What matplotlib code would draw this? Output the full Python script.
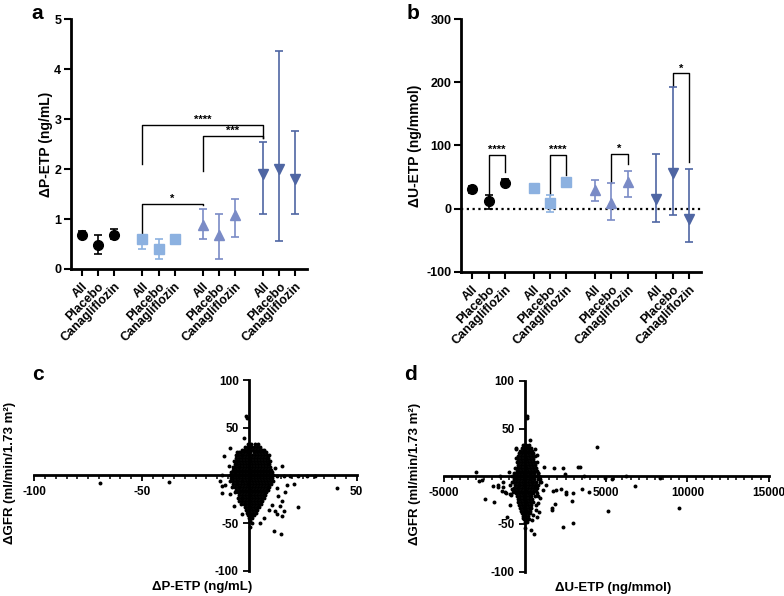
import numpy as np
import matplotlib
matplotlib.use("Agg")
import matplotlib.pyplot as plt

plt.rcParams["font.family"] = ["Liberation Sans", "DejaVu Sans"]
plt.rcParams["font.weight"] = "bold"
plt.rcParams["axes.labelweight"] = "bold"
plt.rcParams["axes.unicode_minus"] = False

# categories
arms = ["All", "Placebo", "Canagliflozin"]
tick_labels = arms * 4
positions = [0, 1, 2, 3.75, 4.75, 5.75, 7.5, 8.5, 9.5, 11.25, 12.25, 13.25]

# panel a: delta P-ETP (ng/mL), mean with interval
p_mean = [0.69, 0.49, 0.69, 0.60, 0.40, 0.60, 0.88, 0.68, 1.08, 1.90, 2.01, 1.81]
p_low = [0.62, 0.30, 0.60, 0.40, 0.20, 0.55, 0.60, 0.20, 0.65, 1.10, 0.57, 1.10]
p_high = [0.76, 0.69, 0.80, 0.66, 0.60, 0.65, 1.20, 1.10, 1.40, 2.55, 4.37, 2.77]

# panel b: delta U-ETP (ng/mmol)
u_mean = [30.4, 11.5, 40.8, 32.0, 8.4, 42.4, 30.0, 8.4, 42.4, 14.7, 56.5, -16.0]
u_low = [25, 0, 35, 29, -5, 38, 12, -18, 18, -22, -10, -53]
u_high = [36, 22, 47, 35, 21.5, 48, 46, 40, 60, 87, 193, 62]

# significance brackets: (left idx, right idx, left foot, top, right foot, label)
p_brackets = [(3, 6, 0.72, 1.31, 1.28, "*"),
              (3, 9, 2.10, 2.89, 2.62, "****"),
              (6, 9, 1.96, 2.66, 2.62, "***")]
u_brackets = [(1, 2, 22, 85, 58, "****"),
              (4, 5, 22, 85, 53, "****"),
              (7, 8, 40, 87, 70, "*"),
              (10, 11, 194, 214, 74, "*")]

# panel c: dGFR vs dP-ETP, dense core read row by row (y: x values)
c_core = {
    33: [-0.5, 1.0, 2.5, 4.0],
    30: [-2.0, -0.5, 0.8, 2.2, 3.6, 5.0],
    27: [-3.6, -2.4, -1.2, 0.2, 1.6, 3.0, 4.4, 5.8, 7.0],
    24: [-5.0, -3.8, -2.5, -1.0, 0.5, 2.0, 3.5, 5.0, 6.4, 7.6],
    21: [-6.4, -5.2, -4.0, -2.8, -1.4, 0.0, 1.4, 2.8, 4.2, 5.6, 7.0, 8.4],
    18: [-6.0, -4.8, -3.6, -2.2, -0.8, 0.6, 2.0, 3.4, 4.8, 6.2, 7.6, 8.6],
    15: [-7.0, -5.8, -4.6, -3.2, -1.8, -0.4, 1.0, 2.4, 3.8, 5.2, 6.6, 8.0, 9.2],
    12: [-6.8, -5.6, -4.4, -3.0, -1.6, -0.2, 1.2, 2.6, 4.0, 5.4, 6.8, 8.2, 9.4],
    9: [-7.6, -6.6, -5.4, -4.2, -2.8, -1.4, 0.0, 1.4, 2.8, 4.2, 5.6, 7.0, 8.4, 9.8],
    6: [-7.4, -6.2, -5.0, -3.6, -2.2, -0.8, 0.6, 2.0, 3.4, 4.8, 6.2, 7.6, 9.0, 10.2],
    3: [-8.4, -7.2, -6.0, -4.8, -3.4, -2.0, -0.6, 0.8, 2.2, 3.6, 5.0, 6.4, 7.8, 9.2, 10.6],
    0: [-9.0, -7.8, -6.6, -5.4, -4.2, -2.8, -1.4, 0.0, 1.4, 2.8, 4.2, 5.6, 7.0, 8.4, 9.8, 11.2],
    -3: [-8.6, -7.4, -6.2, -5.0, -3.6, -2.2, -0.8, 0.6, 2.0, 3.4, 4.8, 6.2, 7.6, 9.0, 10.4],
    -6: [-8.8, -7.6, -6.4, -5.2, -4.0, -3.0, -1.6, -0.2, 1.2, 2.6, 4.0, 5.4, 6.8, 8.2, 9.6, 11.0],
    -9: [-7.6, -6.4, -5.2, -3.8, -2.4, -1.0, 0.4, 1.8, 3.2, 4.6, 6.0, 7.4, 8.8, 10.0],
    -12: [-7.8, -6.6, -5.4, -4.2, -3.0, -1.6, -0.2, 1.2, 2.6, 4.0, 5.4, 6.8, 8.2, 9.4],
    -15: [-6.2, -5.0, -3.6, -2.2, -0.8, 0.6, 2.0, 3.4, 4.8, 6.2, 7.6, 8.8],
    -18: [-6.6, -5.4, -4.2, -3.0, -1.6, -0.2, 1.2, 2.6, 4.0, 5.4, 6.8, 8.0],
    -21: [-5.0, -3.6, -2.2, -0.8, 0.6, 2.0, 3.4, 4.8, 6.2, 7.4],
    -24: [-5.2, -4.0, -2.8, -1.4, 0.0, 1.4, 2.8, 4.2, 5.6, 6.8],
    -27: [-3.6, -2.2, -0.8, 0.6, 2.0, 3.4, 4.8, 6.0],
    -30: [-3.8, -2.6, -1.4, 0.0, 1.4, 2.8, 4.2, 5.4],
    -33: [-2.2, -0.8, 0.6, 2.0, 3.4, 4.6],
    -36: [-1.6, -0.2, 1.2, 2.6, 3.8],
    -39: [-1.0, 0.4, 1.8, 3.0],
    -42: [-0.6, 0.8, 2.2],
    -45: [0.0, 1.4],
    -48: [0.4],
}
c_extra_x = [-1.4, -1.1, -2.6, -8.8, -11.9, -5.7, -9.6, -12.7, -13.5, -12.7, -12.7, -11.2,
             -8.8, -7.3, -5.0, 12.1, 15.2, 12.9, 16.0, 19.0, 22.9, 26.8, 30.7, 20.6, 17.5,
             16.7, 15.2, 14.4, 16.0, 15.2, 10.5, 12.1, 9.0, 12.9, 22.9, 11.3, 14.9, 6.7,
             5.1, 1.2, 0.5, -3.4, 9.8, 9.0, 12.9, 13.6, -69.3, -37.5, 40.8]
c_extra_y = [62.0, 60.0, 39.0, 28.7, 20.0, 25.0, 9.4, 0.7, -6.3, -11.5, -18.5, -9.8,
             -20.0, -32.5, -27.0, 7.7, 9.4, -1.0, -1.0, -0.3, -1.0, -1.0, -1.0, -9.0, -10.5,
             -17.5, -27.0, -32.5, -37.8, -43.0, -30.8, -37.8, -36.0, -41.0, -33.0, -58.0, -61.5, -44.8,
             -50.0, -50.0, -54.5, -41.0, 14.7, 21.7, -13.3, -22.0, -8.0, -7.3, -13.3]

# panel d: dGFR vs dU-ETP, dense core read row by row (y: x values)
d_core = {
    33: [-100, 80, 260],
    30: [-200, -20, 160, 340],
    27: [-300, -120, 60, 240, 420],
    24: [-380, -200, -20, 160, 340, 520],
    21: [-450, -270, -90, 90, 270, 450, 620],
    18: [-400, -220, -40, 140, 320, 500],
    15: [-520, -340, -160, 20, 200, 380, 560, 760],
    12: [-450, -270, -90, 90, 270, 450, 630],
    9: [-600, -420, -240, -60, 120, 300, 480, 660],
    6: [-520, -340, -160, 20, 200, 380, 560, 760],
    3: [-700, -500, -320, -140, 40, 220, 400, 580, 780],
    0: [-780, -600, -420, -240, -60, 120, 300, 480, 660, 860],
    -3: [-680, -500, -320, -140, 40, 220, 400, 580, 800],
    -6: [-740, -560, -380, -200, -20, 160, 340, 520, 700, 900],
    -9: [-640, -460, -280, -100, 80, 260, 440, 620, 820],
    -12: [-700, -520, -340, -160, 20, 200, 380, 560, 760],
    -15: [-600, -420, -240, -60, 120, 300, 480, 680],
    -18: [-560, -380, -200, -20, 160, 340, 520, 720],
    -21: [-500, -320, -140, 40, 220, 400, 600],
    -24: [-460, -280, -100, 80, 260, 440],
    -27: [-400, -220, -40, 140, 320, 500],
    -30: [-350, -170, 10, 190, 370],
    -33: [-300, -120, 60, 240, 400],
    -36: [-240, -60, 120, 300],
    -39: [-200, -20, 160, 330],
    -42: [-150, 30, 210],
    -45: [-80, 100, 260],
    -48: [-20, 150],
}
d_extra_x = [-3030, -2830, -2620, -2460, -1890, -1990, -1680, -1435, -1230, -1330, -920, -780,
             -1520, -960, -615, -575, -555, -450, -1090, -920, 1170, 1780, 2460, 1720, 2190,
             2540, 1680, 2320, 2970, 2870, 3360, 3650, 3530, 3940, 4450, 4920, 5330, 5125,
             6230, 6770, 8300, 9470, 780, 920, 615, 820, 780, 655, 510, 410, 100, 140, 205,
             -820, 370, 550, 0, -100, 2340, 3260, -1350, -1660, -940, -740, -1150, -840, 740,
             595, 290, -530, 900, 700, 860, 740, 1000, 1310, 1100, 1930, 1820, 1660, 2950, 2540]
d_extra_y = [4.9, -4.5, -3.8, -24.0, -27.0, -9.8, -10.8, -15.0, -16.8, -10.8, -18.5, -13.6,
             0.7, 4.9, -0.7, 29.4, 18.9, 9.4, -43.0, -30.0, 10.0, 9.0, 2.4, -15.7, -13.6,
             -18.5, -35.0, -53.5, -49.0, -25.5, 10.0, 0.7, -13.0, -17.0, 31.0, -2.0, -3.0, -36.0,
             0.3, -10.0, -2.0, -33.6, 3.0, -3.0, -10.8, -21.0, -28.0, -35.0, -40.6, -45.8, 63.0, 61.5, 29.4,
             -5.6, -56.0, -60.5, -54.5, -44.0, 8.4, 10.0, -5.6, -9.0, -9.0, -16.8, -17.8, -20.0, 22.4,
             29.0, 38.0, 29.0, -23.0, -30.0, -37.0, -43.0, -5.6, -9.0, -14.0, -14.0, -29.0, -33.0, -17.8, -16.0]

colors = ["#000000"] * 3 + ["#8cb1e0"] * 3 + ["#7a8bc6"] * 3 + ["#4f66a3"] * 3
markers = ["o"] * 3 + ["s"] * 3 + ["^"] * 3 + ["v"] * 3
msizes = [7] * 3 + [6.5] * 3 + [7.5] * 3 + [7.5] * 3


def _core_points(rows):
    xs, ys = [], []
    for y, row in rows.items():
        xs += row
        ys += [y] * len(row)
    return np.array(xs, dtype=float), np.array(ys, dtype=float)


def _group_panel(ax, means, lows, highs, brackets, ylim, yticks, ylabel, label_x):
    for i, x in enumerate(positions):
        err = [[means[i] - lows[i]], [highs[i] - means[i]]]
        ax.errorbar([x], [means[i]], yerr=err, fmt=markers[i], color=colors[i],
                    ms=msizes[i], capsize=3, elinewidth=1.2, capthick=1.2, zorder=3)
    for i, j, yl, yt, yr, txt in brackets:
        ax.plot([positions[i], positions[i], positions[j], positions[j]], [yl, yt, yt, yr],
                color="black", lw=1.0, zorder=2)
        ax.text((positions[i] + positions[j]) / 2, yt, txt, ha="center", va="bottom",
                fontsize=8)
    ax.set_xlim(-0.68, positions[-1] + 0.7)
    ax.set_ylim(*ylim)
    ax.set_yticks(yticks)
    ax.set_xticks(positions)
    ax.set_xticklabels(tick_labels, rotation=45, ha="right", rotation_mode="anchor", fontsize=8)
    ax.spines[["top", "right"]].set_visible(False)
    ax.spines[["left", "bottom"]].set_linewidth(2)
    ax.tick_params(width=1.5, length=5, labelsize=9)
    ax.tick_params(axis="y", pad=2)
    ax.set_ylabel(ylabel, fontsize=10)
    ax.yaxis.set_label_coords(label_x, 0.5)


def _scatter_panel(ax, core, ex_x, ex_y, xlim, xmajor, xminor, xlabel, ylabel_x):
    cx, cy = _core_points(core)
    ax.scatter(np.concatenate([cx, ex_x]), np.concatenate([cy, ex_y]), s=8, c="black",
               linewidths=0, zorder=3)
    ax.set_xlim(*xlim)
    ax.set_ylim(-100, 100)
    for side in ["left", "bottom"]:
        ax.spines[side].set_position(("data", 0))
        ax.spines[side].set_linewidth(2)
    ax.spines[["top", "right"]].set_visible(False)
    ax.set_xticks(xmajor)
    ax.set_xticks(xminor, minor=True)
    ax.set_yticks([-100, -50, 50, 100])
    ax.tick_params(which="major", width=1.3, length=4, labelsize=8.5)
    ax.tick_params(which="minor", width=1.1, length=3)
    ax.set_xlabel(xlabel, fontsize=9.5)
    ax.xaxis.set_label_coords(0.52, -0.055)
    ax.set_ylabel("ΔGFR (ml/min/1.73 m²)", fontsize=9.5)
    ax.yaxis.set_label_coords(ylabel_x, 0.51)


fig = plt.figure(figsize=(7.84, 5.96), dpi=100)

ax_a = fig.add_axes([0.0906, 0.5487, 0.3006, 0.419])
_group_panel(ax_a, p_mean, p_low, p_high, p_brackets, (0, 5), [0, 1, 2, 3, 4, 5],
             "ΔP-ETP (ng/mL)", -0.075)

ax_b = fig.add_axes([0.588, 0.544, 0.3057, 0.424])
ax_b.axhline(0, color="black", lw=1.6, ls=(0, (1, 1.6)), zorder=1)
_group_panel(ax_b, u_mean, u_low, u_high, u_brackets, (-100, 300), [-100, 0, 100, 200, 300],
             "ΔU-ETP (ng/mmol)", -0.163)

ax_c = fig.add_axes([0.0438, 0.0425, 0.4112, 0.3199])
_scatter_panel(ax_c, c_core, c_extra_x, c_extra_y, (-100, 50), [-100, -50, 50],
               np.arange(-100, 51, 5), "ΔP-ETP (ng/mL)", -0.058)

ax_d = fig.add_axes([0.566, 0.0408, 0.4145, 0.3202])
_scatter_panel(ax_d, d_core, d_extra_x, d_extra_y, (-5000, 15000), [-5000, 5000, 10000, 15000],
               np.arange(-5000, 15001, 500), "ΔU-ETP (ng/mmol)", -0.07)

for x, y, letter in [(0.047, 0.978, "a"), (0.527, 0.978, "b"), (0.048, 0.372, "c"), (0.523, 0.372, "d")]:
    fig.text(x, y, letter, fontsize=15, fontweight="bold", ha="center", va="center")

fig.savefig("out.png", dpi=100)
